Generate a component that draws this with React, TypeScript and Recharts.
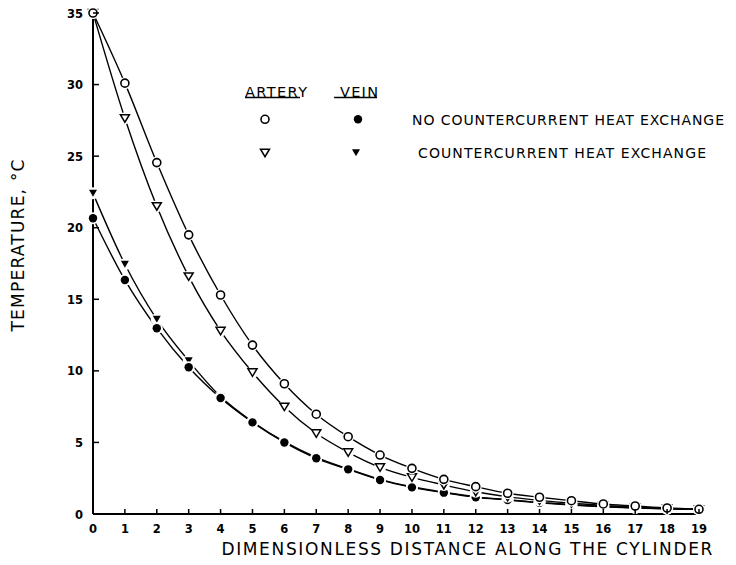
import React from 'react';
import { LineChart, Line, XAxis, YAxis } from 'recharts';

const distance = [0, 1, 2, 3, 4, 5, 6, 7, 8, 9, 10, 11, 12, 13, 14, 15, 16, 17, 18, 19];
const arteryNoExchange = [35, 30.1, 24.55, 19.5, 15.3, 11.8, 9.1, 6.97, 5.4, 4.12, 3.19, 2.42, 1.91, 1.45, 1.17, 0.93, 0.7, 0.56, 0.42, 0.33];
const arteryExchange = [35, 27.65, 21.5, 16.6, 12.8, 9.9, 7.5, 5.64, 4.31, 3.26, 2.56, 2.03, 1.55, 1.2, 0.95, 0.75, 0.6, 0.47, 0.38, 0.32];
const veinNoExchange = [20.66, 16.35, 12.98, 10.25, 8.1, 6.4, 5.0, 3.89, 3.12, 2.38, 1.86, 1.49, 1.17, 0.98, 0.79, 0.63, 0.51, 0.42, 0.36, 0.33];
const veinExchange = [22.4, 17.45, 13.6, 10.7, 8.2, 6.45, 5.05, 3.95, 3.15, 2.42, 1.9, 1.52, 1.2, 1.0, 0.8, 0.65, 0.52, 0.43, 0.37, 0.33];

const yTicks = [0, 5, 10, 15, 20, 25, 30, 35];
const xTicks = distance;
const xTitle = 'DIMENSIONLESS DISTANCE ALONG THE CYLINDER';
const yTitle = 'TEMPERATURE, °C';
const legendHeaders = ['ARTERY', 'VEIN'];
const legendRows = ['NO COUNTERCURRENT HEAT EXCHANGE', 'COUNTERCURRENT HEAT EXCHANGE'];

const data = distance.map((d, i) => ({
  d,
  aN: arteryNoExchange[i],
  aC: arteryExchange[i],
  vN: veinNoExchange[i],
  vC: veinExchange[i],
}));

const FONT = '"DejaVu Sans", Verdana, sans-serif';

type Kind = 'openCircle' | 'filledCircle' | 'openTri' | 'filledTri';

const MarkerShape = ({ cx, cy, kind }: { cx: number; cy: number; kind: Kind }) => {
  if (kind === 'openCircle') return <circle cx={cx} cy={cy} r={4} fill="#fff" stroke="#000" strokeWidth={1.6} />;
  if (kind === 'filledCircle') return <circle cx={cx} cy={cy} r={4.2} fill="#000" />;
  if (kind === 'openTri')
    return (
      <polygon
        points={`${cx - 4.5},${cy - 3.5} ${cx + 4.5},${cy - 3.5} ${cx},${cy + 4}`}
        fill="#fff"
        stroke="#000"
        strokeWidth={1.5}
      />
    );
  return <polygon points={`${cx - 4},${cy - 3.5} ${cx + 4},${cy - 3.5} ${cx},${cy + 3.5}`} fill="#000" />;
};

const makeDot = (kind: Kind) => (props: any) => {
  const { cx, cy, index } = props;
  if (cx == null || cy == null) return <g key={`${kind}-${index}`} />;
  return (
    <g key={`${kind}-${index}`}>
      <circle cx={cx} cy={cy} r={6} fill="#fff" />
      <MarkerShape cx={cx} cy={cy} kind={kind} />
    </g>
  );
};

const YTick = (props: any) => {
  const { x, y, payload } = props;
  return (
    <g>
      <line x1={x + 10} x2={x + 16} y1={y} y2={y} stroke="#000" strokeWidth={1.5} />
      <text x={x} y={y + 4.5} textAnchor="end" fontFamily={FONT} fontWeight="bold" fontSize={11.5} fill="#000">
        {payload.value}
      </text>
    </g>
  );
};

const XTick = (props: any) => {
  const { x, y, payload } = props;
  return (
    <g>
      <line x1={x} x2={x} y1={y} y2={y - 5} stroke="#000" strokeWidth={1.5} />
      <text x={x} y={y + 19} textAnchor="middle" fontFamily={FONT} fontWeight="bold" fontSize={11.5} fill="#000">
        {payload.value}
      </text>
    </g>
  );
};

const XTitle = (props: any) => {
  const vb = props.viewBox || { x: 0, y: 0, width: 0, height: 0 };
  return (
    <text
      x={vb.x + vb.width * 0.617}
      y={vb.y + 41}
      textAnchor="middle"
      fontFamily={FONT}
      fontSize={17}
      textLength={491}
      lengthAdjust="spacing"
      fill="#000"
    >
      {xTitle}
    </text>
  );
};

const YTitle = (props: any) => {
  const vb = props.viewBox || { x: 0, y: 0, width: 0, height: 0 };
  const cx = vb.x + 16;
  const cy = vb.y + vb.height / 2 - 18;
  return (
    <text
      x={cx}
      y={cy}
      transform={`rotate(-90 ${cx} ${cy})`}
      textAnchor="middle"
      fontFamily={FONT}
      fontSize={17}
      textLength={172}
      lengthAdjust="spacing"
      fill="#000"
    >
      {yTitle}
    </text>
  );
};

export default function App() {
  return (
    <div style={{ position: 'relative', width: 728, height: 557, background: '#fff' }}>
      <LineChart width={728} height={557} data={data} margin={{ top: 5, right: 37, left: 0, bottom: 0 }}>
        <XAxis
          dataKey="d"
          type="number"
          domain={[0, 19]}
          ticks={xTicks}
          interval={0}
          height={51}
          tickSize={0}
          tickMargin={0}
          tick={<XTick />}
          axisLine={{ stroke: '#000', strokeWidth: 2 }}
          label={<XTitle />}
        />
        <YAxis
          type="number"
          domain={[0, 35]}
          ticks={yTicks}
          interval={0}
          width={85}
          tickSize={0}
          tickMargin={10}
          tick={<YTick />}
          axisLine={{ stroke: '#000', strokeWidth: 2 }}
          label={<YTitle />}
        />
        <Line
          dataKey="vC"
          type="monotone"
          stroke="#000"
          strokeWidth={1.4}
          dot={makeDot('filledTri')}
          isAnimationActive={false}
        />
        <Line
          dataKey="vN"
          type="monotone"
          stroke="#000"
          strokeWidth={1.4}
          dot={makeDot('filledCircle')}
          isAnimationActive={false}
        />
        <Line
          dataKey="aC"
          type="monotone"
          stroke="#000"
          strokeWidth={1.4}
          dot={makeDot('openTri')}
          isAnimationActive={false}
        />
        <Line
          dataKey="aN"
          type="monotone"
          stroke="#000"
          strokeWidth={1.4}
          dot={makeDot('openCircle')}
          isAnimationActive={false}
        />
      </LineChart>
      <svg
        width={728}
        height={557}
        style={{ position: 'absolute', left: 0, top: 0, pointerEvents: 'none' }}
      >
        <text x={237} y={88.5} fontFamily={FONT} fontSize={14.5} textLength={62} lengthAdjust="spacing" fill="#000">
          {legendHeaders[0]}
        </text>
        <line x1={237} x2={292} y1={89.5} y2={89.5} stroke="#000" strokeWidth={1.3} />
        <text x={332} y={88.5} fontFamily={FONT} fontSize={14.5} textLength={38} lengthAdjust="spacing" fill="#000">
          {legendHeaders[1]}
        </text>
        <line x1={326} x2={369} y1={89.5} y2={89.5} stroke="#000" strokeWidth={1.3} />
        <MarkerShape cx={257} cy={111.3} kind="openCircle" />
        <MarkerShape cx={350} cy={111.3} kind="filledCircle" />
        <text x={404} y={117} fontFamily={FONT} fontSize={14} textLength={312} lengthAdjust="spacing" fill="#000">
          {legendRows[0]}
        </text>
        <MarkerShape cx={257} cy={144.7} kind="openTri" />
        <MarkerShape cx={348} cy={144.7} kind="filledTri" />
        <text x={410} y={150} fontFamily={FONT} fontSize={14} textLength={288} lengthAdjust="spacing" fill="#000">
          {legendRows[1]}
        </text>
      </svg>
    </div>
  );
}
